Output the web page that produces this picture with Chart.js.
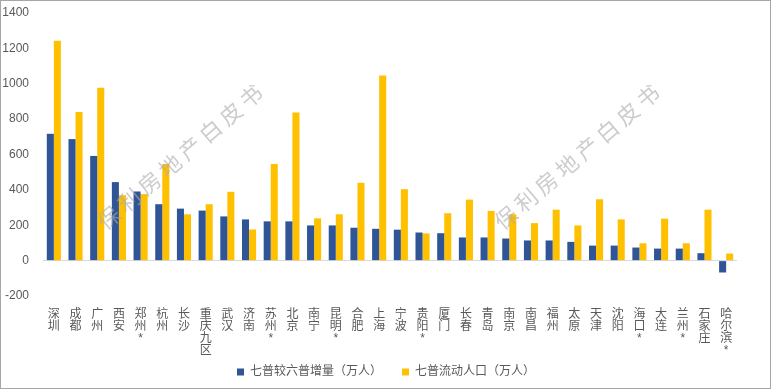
<!DOCTYPE html>
<html>
<head>
<meta charset="utf-8">
<script src="https://cdn.jsdelivr.net/npm/chart.js@4.4.0/dist/chart.umd.min.js"></script>
<style>
  body { margin: 0; background: #fff; }
  #wrap { width: 772px; height: 391px; }
</style>
</head>
<body>
<div id="wrap"><canvas id="c" width="772" height="391"></canvas></div>
<script>
const cities = ['深圳', '成都', '广州', '西安', '郑州*', '杭州', '长沙', '重庆九区', '武汉', '济南', '苏州*', '北京', '南宁', '昆明*', '合肥', '上海',
  '宁波', '贵阳*', '厦门', '长春', '青岛', '南京', '南昌', '福州', '太原', '天津', '沈阳', '海口*', '大连', '兰州*', '石家庄', '哈尔滨*'];
const increase = [717, 687, 592, 444, 391, 319, 294, 283, 250, 233, 222, 222, 199, 199, 186, 180,
  175, 159, 155, 131, 131, 125, 114, 114, 106, 85, 85, 74, 68, 68, 42, -67];
const floating = [1243, 840, 977, 370, 376, 546, 262, 319, 389, 176, 546, 837, 239, 262, 440, 1047,
  404, 154, 268, 345, 281, 262, 212, 288, 199, 347, 233, 98, 237, 98, 288, 40];
const seriesNames = ['七普较六普增量（万人）', '七普流动人口（万人）'];
const watermark = '保利房地产白皮书';

const textColor = '#595959';
const fontFamily = '"Liberation Sans", "Noto Sans CJK SC", sans-serif';

// frame + diagonal watermark
const decor = {
  id: 'decor',
  afterDraw(chart) {
    const ctx = chart.ctx;
    ctx.save();
    ctx.strokeStyle = '#a6a6a6';
    ctx.lineWidth = 1;
    ctx.strokeRect(0.5, 0.5, 770, 388);
    ctx.fillStyle = 'rgba(170,170,170,0.6)';
    ctx.font = '22px "Noto Sans CJK SC"';
    ctx.textAlign = 'center';
    ctx.textBaseline = 'middle';
    [[180, 157], [577, 157]].forEach(([cx, cy]) => {
      ctx.save();
      ctx.translate(cx, cy);
      ctx.rotate(-40.5 * Math.PI / 180);
      const chars = Array.from(watermark);
      chars.forEach((ch, i) => {
        ctx.fillText(ch, (i - (chars.length - 1) / 2) * 26.7, 0);
      });
      ctx.restore();
    });
    ctx.restore();
  }
};

new Chart(document.getElementById('c'), {
  type: 'bar',
  data: {
    labels: cities.map(n => Array.from(n)),
    datasets: [
      { label: seriesNames[0], data: increase, backgroundColor: '#2F5597' },
      { label: seriesNames[1], data: floating, backgroundColor: '#FFC000' }
    ]
  },
  options: {
    responsive: false,
    animation: false,
    categoryPercentage: 0.65,
    barPercentage: 1,
    layout: { padding: { top: 13, left: 0, right: 0, bottom: 3 } },
    plugins: {
      tooltip: { enabled: false },
      legend: {
        position: 'bottom',
        labels: {
          boxWidth: 7, boxHeight: 7, padding: 10, color: textColor,
          font: { size: 12, family: fontFamily },
          // wider gap between the two entries
          generateLabels(chart) {
            const items = Chart.defaults.plugins.legend.labels.generateLabels(chart);
            items[0].text += '   ';
            return items;
          }
        }
      }
    },
    scales: {
      x: {
        grid: { display: false, drawTicks: false },
        border: { display: false },
        ticks: {
          autoSkip: false, maxRotation: 0, minRotation: 0, padding: 13, color: textColor,
          font: { size: 12, family: fontFamily, lineHeight: 1 }
        },
        afterFit(s) { s.height = 60; }
      },
      y: {
        min: -200, max: 1400,
        grid: {
          drawTicks: false,
          color: c => c.tick && c.tick.value === 0 ? '#d9d9d9' : 'rgba(0,0,0,0)'
        },
        border: { display: false },
        ticks: {
          stepSize: 200, padding: 14, color: textColor,
          font: { size: 12, family: fontFamily },
          callback: v => String(v)
        },
        afterFit(s) {
          s.width = 43;
          s.paddingTop = 7;
          s.paddingBottom = 7;
        }
      },
      y2: {
        position: 'right',
        grid: { display: false },
        border: { display: false },
        ticks: { display: false },
        afterFit(s) { s.width = 35; }
      }
    }
  },
  plugins: [decor]
});
</script>
</body>
</html>
